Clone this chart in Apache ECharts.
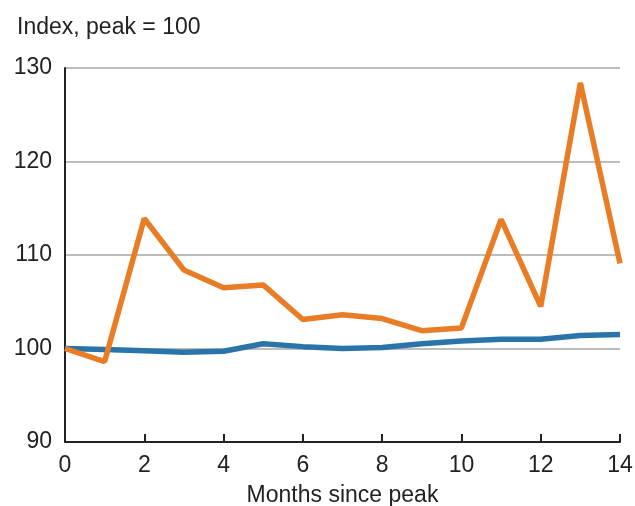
<!DOCTYPE html>
<html><head><meta charset="utf-8">
<script src="https://cdn.jsdelivr.net/npm/echarts@6/dist/echarts.min.js"></script>
<style>html,body{margin:0;padding:0;background:#fff}#c{width:635px;height:506px}</style>
</head><body><div id="c"></div>
<script>
const months = [0,1,2,3,4,5,6,7,8,9,10,11,12,13,14];
const orangeValues = [100,98.6,113.9,108.4,106.5,106.8,103.1,103.6,103.2,101.9,102.2,113.8,104.5,128.4,109.1];
const blueValues = [100,99.9,99.75,99.6,99.7,100.5,100.2,100.0,100.1,100.5,100.8,101.0,101.0,101.4,101.5];
const yTicks = [90,100,110,120,130];
const xTicks = [0,2,4,6,8,10,12,14];
const yTitle = 'Index, peak = 100';
const xTitle = 'Months since peak';

const chart = echarts.init(document.getElementById('c'), null, {renderer:'canvas'});
const font = 'Liberation Sans, Arial, sans-serif';
const fs = 23;
chart.setOption({
  animation:false,
  backgroundColor:'#fff',
  textStyle:{fontFamily:font},
  title:{text:yTitle,left:12,top:11,textStyle:{fontFamily:font,fontSize:fs,fontWeight:'normal',color:'#222'}},
  grid:{left:65,right:15,top:68,bottom:64,containLabel:false,outerBoundsMode:'none'},
  xAxis:{type:'value',min:xTicks[0],max:xTicks[xTicks.length-1],interval:2,
    name:xTitle,nameLocation:'middle',nameGap:42,
    nameTextStyle:{fontFamily:font,fontSize:fs,color:'#222'},
    axisLine:{show:true,lineStyle:{color:'#222',width:2}},
    axisTick:{show:true,inside:true,length:8,lineStyle:{color:'#222',width:2}},
    axisLabel:{fontFamily:font,fontSize:fs,color:'#222',margin:12},
    splitLine:{show:false}},
  yAxis:{type:'value',min:yTicks[0],max:yTicks[yTicks.length-1],interval:10,
    axisLine:{show:true,lineStyle:{color:'#222',width:2}},
    axisTick:{show:false},
    axisLabel:{fontFamily:font,fontSize:fs,color:'#222',margin:13},
    splitLine:{show:true,lineStyle:{color:'#bdbdbd',width:2}}},
  series:[
    {type:'line',data:months.map((m,i)=>[m,blueValues[i]]),showSymbol:false,
      lineStyle:{color:'#2b74a9',width:5.5},itemStyle:{color:'#2b74a9'},z:3},
    {type:'line',data:months.map((m,i)=>[m,orangeValues[i]]),showSymbol:false,
      lineStyle:{color:'#e87d26',width:5.5},itemStyle:{color:'#e87d26'},z:4}
  ]
});
</script></body></html>
